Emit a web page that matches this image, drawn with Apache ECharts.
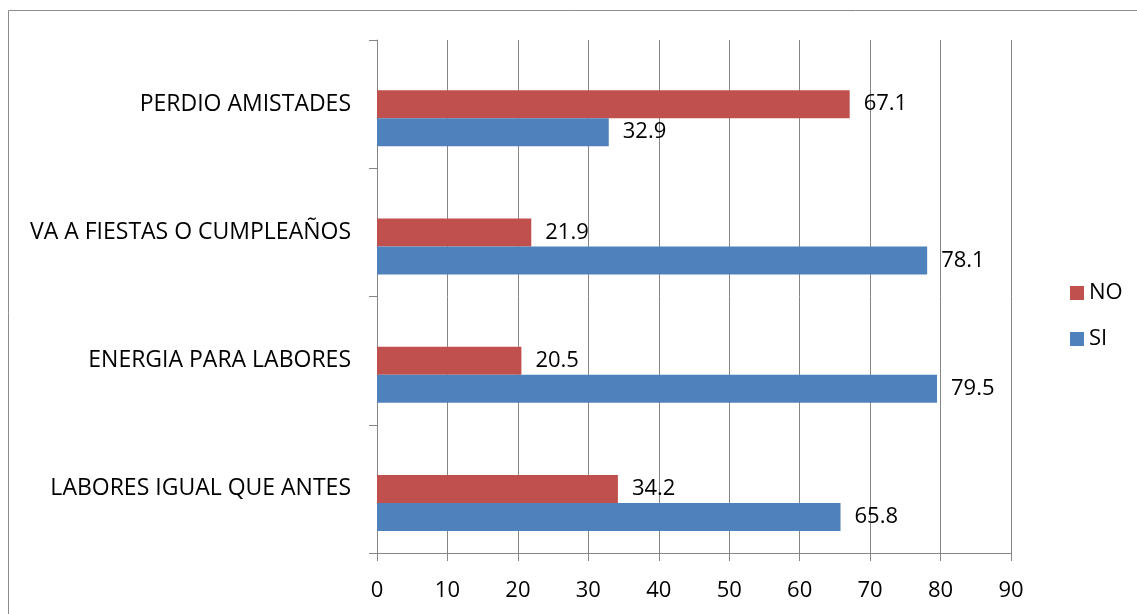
<!DOCTYPE html>
<html>
<head>
<meta charset="utf-8">
<script src="https://cdn.jsdelivr.net/npm/echarts@6/dist/echarts.min.js"></script>
<style>html,body{margin:0;padding:0;background:#fff}#c{width:1137px;height:614px}</style>
</head>
<body>
<div id="c"></div>
<script>
const categories = ['LABORES IGUAL QUE ANTES', 'ENERGIA PARA LABORES', 'VA A FIESTAS O CUMPLEAÑOS', 'PERDIO AMISTADES'];
const siValues = [65.8, 79.5, 78.1, 32.9];
const noValues = [34.2, 20.5, 21.9, 67.1];
const emptyValues = [null, null, null, null];
const xTicks = [0, 10, 20, 30, 40, 50, 60, 70, 80, 90];

const FONT = 'Open Sans';
const FS = 22;
const chart = echarts.init(document.getElementById('c'));
const labelStyle = {show: true, position: 'right', distance: 14, color: '#000', fontFamily: FONT, fontSize: FS};
chart.setOption({
  animation: false,
  textStyle: {fontFamily: FONT},
  graphic: [{type: 'rect', shape: {x: 8.5, y: 10.5, width: 1140, height: 620}, style: {fill: 'none', stroke: '#8c8c8c', lineWidth: 1}}],
  legend: {
    orient: 'vertical', left: 1065, top: 277, itemWidth: 14, itemHeight: 14, itemGap: 24,
    data: ['NO', 'SI'],
    textStyle: {fontFamily: FONT, fontSize: FS, color: '#000'},
    icon: 'rect'
  },
  grid: {left: 377, right: 126, top: 40, bottom: 61},
  xAxis: {
    type: 'value', min: 0, max: 90, interval: 10,
    axisLine: {show: true, lineStyle: {color: '#868686'}},
    axisTick: {show: true, length: 8, lineStyle: {color: '#868686'}},
    splitLine: {show: true, lineStyle: {color: '#868686'}},
    axisLabel: {margin: 27, color: '#000', fontFamily: FONT, fontSize: FS,
      formatter: v => xTicks.includes(v) ? String(v) : ''}
  },
  yAxis: {
    type: 'category', data: categories,
    axisLine: {show: true, lineStyle: {color: '#868686'}},
    axisTick: {show: true, length: 8, lineStyle: {color: '#868686'}},
    axisLabel: {margin: 26, color: '#000', fontFamily: FONT, fontSize: 23}
  },
  series: [
    {name: 'extra', type: 'bar', data: emptyValues, barWidth: 28, barGap: '0%', barCategoryGap: '34%'},
    {name: 'NO', type: 'bar', data: noValues, itemStyle: {color: '#C0504D'}, barWidth: 28, barGap: '0%', label: labelStyle},
    {name: 'SI', type: 'bar', data: siValues, itemStyle: {color: '#4F81BD'}, barWidth: 28, barGap: '0%', label: labelStyle}
  ]
});
</script>
</body>
</html>
